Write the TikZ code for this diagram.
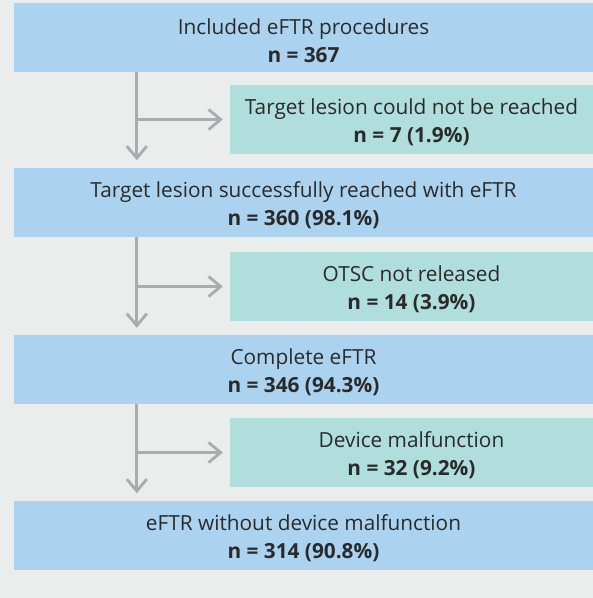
\documentclass[tikz,border=0pt]{standalone}
\usepackage{fontspec}
\setmainfont{Open Sans}
\usetikzlibrary{arrows.meta}
\definecolor{bg}{HTML}{EBECEC}
\definecolor{boxblue}{HTML}{ABD3F0}
\definecolor{boxgreen}{HTML}{B0DEDC}
\definecolor{arrowgray}{HTML}{ABABAD}
\definecolor{txt}{HTML}{2A2A2A}
\newcommand\toplift{\rule{0pt}{22pt}}
\tikzset{
  stage/.style={fill=boxblue, minimum width=579pt, minimum height=69pt,
    inner sep=0pt, align=center, text=txt,
    font=\fontsize{20.8}{28}\selectfont},
  drop/.style={stage, fill=boxgreen, minimum width=363pt},
  flow/.style={draw=arrowgray, line width=2.8pt, shorten >=7pt,
    -{Straight Barb[length=12pt,width=20pt]}}
}
\begin{document}
\begin{tikzpicture}[x=1pt, y=-1pt]
   \fill[bg] (0,0) rectangle (593,598);
   \useasboundingbox (0,0) rectangle (593,598);
   \foreach \y/\n/\t/\c in
     { 37.5/incl/{Included eFTR procedures}/{n = 367},
      202/reach/{Target lesion successfully reached with eFTR}/{n = 360 (98.1\%)},
      369.5/compl/{Complete eFTR}/{n = 346 (94.3\%)},
      535/final/{eFTR without device malfunction}/{n = 314 (90.8\%)}
     }
     \node[stage] (\n) at (303.5,\y) {\toplift\t\\\textbf{\c}};
   \foreach \y/\n/\t/\c in
     {119.5/notreach/{Target lesion could not be reached}/{n = 7 (1.9\%)},
      286.5/otsc/{OTSC not released}/{n = 14 (3.9\%)},
      452.5/malf/{Device malfunction}/{n = 32 (9.2\%)}
     }
     \node[drop] (\n) at (411.5,\y) {\toplift\t\\\textbf{\c}};

   \foreach \a/\d/\b in {incl/notreach/reach, reach/otsc/compl, compl/malf/final} {
     \draw[flow] ([xshift=123pt]\a.south west) -- ([xshift=123pt]\b.north west);
     \draw[flow] ([xshift=123pt]\a.south west |- \d.west) -- (\d.west);
   }
\end{tikzpicture}
\end{document}
